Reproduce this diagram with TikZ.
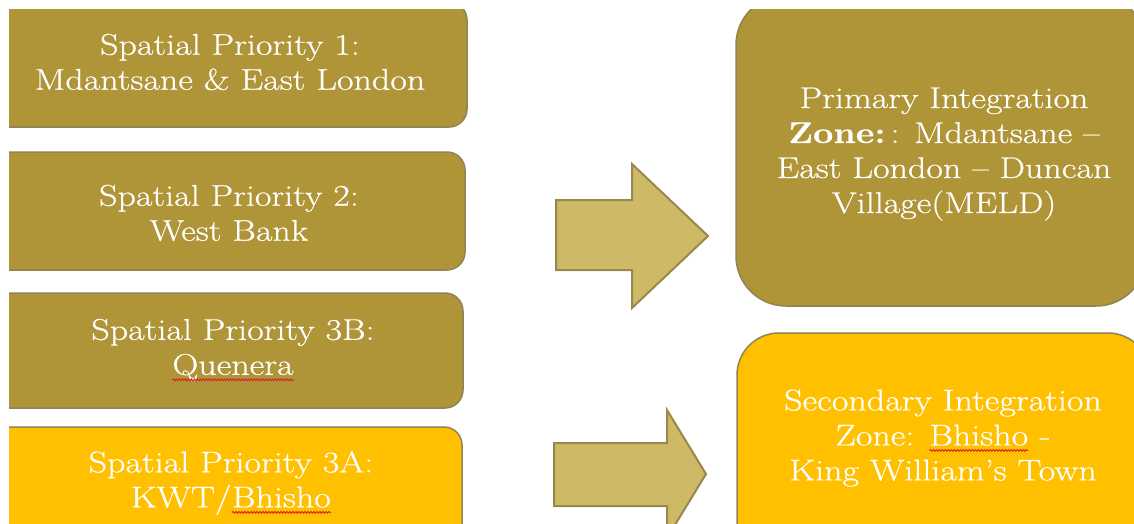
\documentclass[tikz,border=0pt]{standalone}
\usepackage{fontspec}
\setmainfont{Latin Modern Roman}[FakeStretch=1.2,FakeBold=0.5]
\usetikzlibrary{decorations.pathmorphing}
\definecolor{gold}{RGB}{175,149,56}
\definecolor{goldedge}{RGB}{145,132,84}
\definecolor{amber}{RGB}{255,192,0}
\definecolor{arrowfill}{RGB}{205,185,102}
\definecolor{arrowedge}{RGB}{152,136,76}
\definecolor{spellred}{RGB}{220,30,30}
\newcommand\spellmark[1]{\tikz[baseline=(w.base)]{\node[inner sep=0pt,outer sep=0pt,text=white](w){#1};\draw[spellred,line width=0.9pt,decorate,decoration={snake,amplitude=0.9pt,segment length=3pt}] ([yshift=-5pt]w.base west) -- ([yshift=-5pt]w.base east);}}
\tikzset{
  goldbox/.style={fill=gold,draw=goldedge,line width=1.5pt,rounded corners=18pt},
  amberbox/.style={fill=amber,draw=goldedge,line width=1.5pt,rounded corners=18pt},
  blockarrow/.style={fill=arrowfill,draw=arrowedge,line width=2pt,line join=miter},
  label/.style={text=white,align=center,inner sep=0pt,font=\fontsize{30}{35}\selectfont}
}
\begin{document}
\begin{tikzpicture}[x=1pt,y=-1pt]
\useasboundingbox[fill=white] (0,0) rectangle (1134,524);
\begin{scope}
\clip (9,10) rectangle (1134,524);
% left boxes
\draw[goldbox] (-30,2) rectangle (467,127);
\draw[goldbox] (-30,152) rectangle (465,270);
\draw[goldbox] (-30,293) rectangle (463,408);
\draw[amberbox] (-30,427) rectangle (462,580);
% right boxes
\draw[goldbox,rounded corners=50pt] (736,-5) rectangle (1146,306);
\draw[amberbox,rounded corners=42pt] (737,333) rectangle (1150,580);
% block arrows
\draw[blockarrow] (556,200) -- (632,200) -- (632,164) -- (708,236) -- (632,308) -- (632,270) -- (556,270) -- cycle;
\draw[blockarrow] (554,443) -- (667,443) -- (667,410) -- (706,474) -- (667,538) -- (667,506) -- (554,506) -- cycle;
% texts
\node[label] (t1) at (230,62) {Spatial Priority 1:\\Mdantsane \& East London};
\node[label] (t2) at (229,213) {Spatial Priority 2:\\West Bank};
\node[label] (t3) at (233,350) {Spatial Priority 3B:\\\spellmark{Quenera}};
\node[label] (t4) at (231,483) {Spatial Priority 3A:\\KWT/\spellmark{Bhisho}};
\node[label] (pz) at (944,154) {Primary Integration\\\textbf{Zone:}\,: Mdantsane –\\East London – Duncan\\Village(MELD)};
\node[label] (sz) at (943,438) {Secondary Integration\\Zone: \spellmark{Bhisho} -\\King William’s Town};
\end{scope}
\end{tikzpicture}
\end{document}
